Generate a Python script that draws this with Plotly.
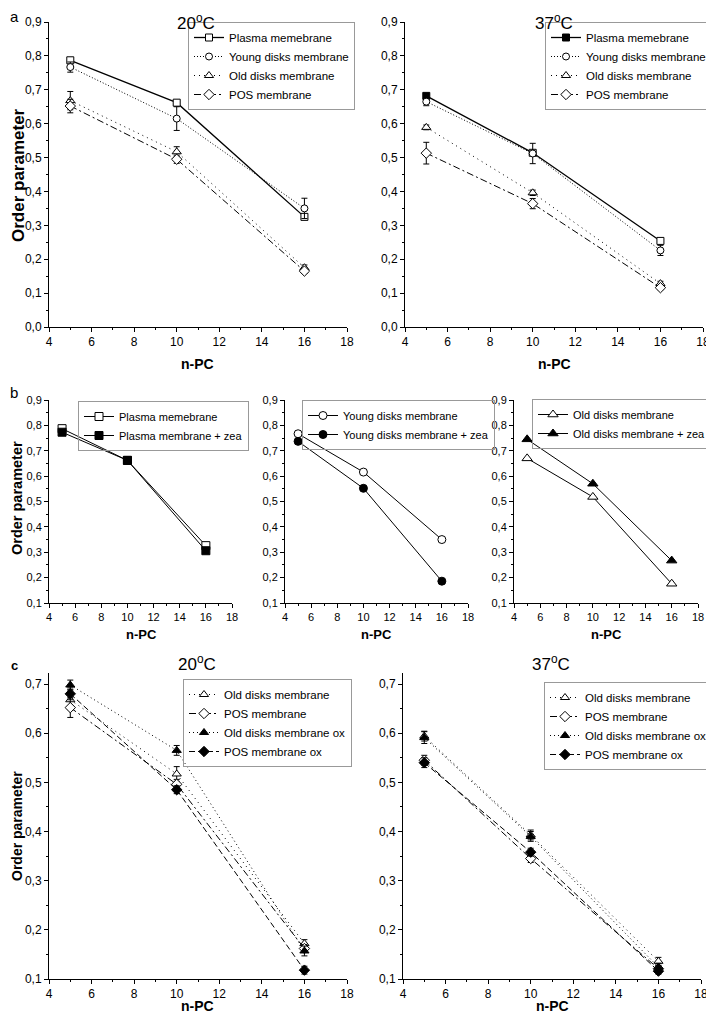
import plotly.graph_objects as go

# The page body has an 8px default margin, so the figure is drawn at (8, 8)
# inside the 714x1020 window; size it to fit and map window pixels into it.
WIN_OFF = 8
W, H = 706, 1012
FONT = "Arial, Liberation Sans, sans-serif"

npc = [5, 10, 16]

# ---- Panel a, 20 C
a20_plasma = [0.787, 0.662, 0.325]
a20_plasma_err = [0.004, 0.006, 0.008]
a20_young = [0.767, 0.615, 0.350]
a20_young_err = [0.015, 0.035, 0.030]
a20_old = [0.668, 0.517, 0.175]
a20_old_err = [0.027, 0.015, 0.008]
a20_pos = [0.652, 0.495, 0.165]
a20_pos_err = [0.020, 0.012, 0.007]

# ---- Panel a, 37 C
a37_plasma = [0.682, 0.514, 0.254]
a37_plasma_err = [0.004, 0.006, 0.006]
a37_young = [0.665, 0.512, 0.226]
a37_young_err = [0.012, 0.030, 0.015]
a37_old = [0.589, 0.396, 0.128]
a37_old_err = [0.007, 0.008, 0.007]
a37_pos = [0.513, 0.364, 0.116]
a37_pos_err = [0.032, 0.015, 0.006]

# ---- Panel b (zeaxanthin)
b_plasma = [0.787, 0.662, 0.326]
b_plasma_zea = [0.773, 0.662, 0.306]
b_young = [0.767, 0.616, 0.350]
b_young_zea = [0.737, 0.552, 0.186]
b_old = [0.670, 0.518, 0.176]
b_old_zea = [0.745, 0.570, 0.267]

# ---- Panel c, 20 C
c20_old = [0.668, 0.517, 0.172]
c20_old_err = [0.020, 0.015, 0.008]
c20_pos = [0.652, 0.496, 0.162]
c20_pos_err = [0.020, 0.010, 0.008]
c20_old_ox = [0.698, 0.565, 0.157]
c20_old_ox_err = [0.010, 0.010, 0.010]
c20_pos_ox = [0.680, 0.485, 0.118]
c20_pos_ox_err = [0.012, 0.008, 0.008]

# ---- Panel c, 37 C
c37_old = [0.594, 0.393, 0.136]
c37_old_err = [0.010, 0.010, 0.008]
c37_pos = [0.545, 0.345, 0.121]
c37_pos_err = [0.010, 0.008, 0.006]
c37_old_ox = [0.591, 0.390, 0.124]
c37_old_ox_err = [0.012, 0.010, 0.008]
c37_pos_ox = [0.540, 0.358, 0.116]
c37_pos_ox_err = [0.010, 0.008, 0.006]


def px(x):
    return (x - WIN_OFF) / W


def py(y):
    return 1 - (y - WIN_OFF) / H


fig = go.Figure()


def add(x, y, name, axis, legend, symbol, dash, fill="white", err=None,
        width=1.0, size=7):
    sfx = "" if axis == 1 else str(axis)
    tr = dict(
        x=x, y=y, name=name, mode="lines+markers",
        xaxis="x" + sfx, yaxis="y" + sfx, legend=legend,
        line=dict(color="black", width=width, dash=dash),
        marker=dict(symbol=symbol, size=size, color=fill,
                    line=dict(color="black", width=1)),
        cliponaxis=False,
    )
    if err is not None:
        tr["error_y"] = dict(type="data", array=err, visible=True,
                             color="black", thickness=1, width=3)
    fig.add_trace(go.Scatter(**tr))


DOT = "1px,2px"
SPARSE = "1px,4px"
DASHDOT = "7px,3px,2px,3px"
DASH = "6px,3px"

# a 20
add(npc, a20_plasma, "Plasma memebrane", 1, "legend", "square", "solid", err=a20_plasma_err, width=1.3)
add(npc, a20_young, "Young disks membrane", 1, "legend", "circle", DOT, err=a20_young_err)
add(npc, a20_old, "Old disks membrane", 1, "legend", "triangle-up", SPARSE, err=a20_old_err, size=8)
add(npc, a20_pos, "POS membrane", 1, "legend", "diamond", DASHDOT, err=a20_pos_err, size=8)
# a 37
add(npc, a37_plasma, "Plasma memebrane", 2, "legend2", "square", "solid",
    fill=["black", "white", "white"], err=a37_plasma_err, width=1.3)
add(npc, a37_young, "Young disks membrane", 2, "legend2", "circle", DOT, err=a37_young_err)
add(npc, a37_old, "Old disks membrane", 2, "legend2", "triangle-up", SPARSE, err=a37_old_err, size=8)
add(npc, a37_pos, "POS membrane", 2, "legend2", "diamond", DASHDOT, err=a37_pos_err, size=8)
# b
add(npc, b_plasma, "Plasma memebrane", 3, "legend3", "square", "solid", size=8)
add(npc, b_plasma_zea, "Plasma membrane + zea", 3, "legend3", "square", "solid", fill="black", size=8)
add(npc, b_young, "Young disks membrane", 4, "legend4", "circle", "solid", size=8)
add(npc, b_young_zea, "Young disks membrane + zea", 4, "legend4", "circle", "solid", fill="black", size=8)
add(npc, b_old, "Old disks membrane", 5, "legend5", "triangle-up", "solid", size=9)
add(npc, b_old_zea, "Old disks membrane + zea", 5, "legend5", "triangle-up", "solid", fill="black", size=9)
# c 20
add(npc, c20_old, "Old disks membrane", 6, "legend6", "triangle-up", SPARSE, err=c20_old_err, size=8)
add(npc, c20_pos, "POS membrane", 6, "legend6", "diamond", DASHDOT, err=c20_pos_err, size=8)
add(npc, c20_old_ox, "Old disks membrane ox", 6, "legend6", "triangle-up", "1px,3px", fill="black", err=c20_old_ox_err, size=8)
add(npc, c20_pos_ox, "POS membrane ox", 6, "legend6", "diamond", DASH, fill="black", err=c20_pos_ox_err, size=8)
# c 37
add(npc, c37_old, "Old disks membrane", 7, "legend7", "triangle-up", SPARSE, err=c37_old_err, size=8)
add(npc, c37_pos, "POS membrane", 7, "legend7", "diamond", DASHDOT, err=c37_pos_err, size=8)
add(npc, c37_old_ox, "Old disks membrane ox", 7, "legend7", "triangle-up", "1px,3px", fill="black", err=c37_old_ox_err, size=8)
add(npc, c37_pos_ox, "POS membrane ox", 7, "legend7", "diamond", DASH, fill="black", err=c37_pos_ox_err, size=8)

# ---- axes (window pixel boxes)
panels = {
    1: dict(x=(49, 347), y=(22, 327), yr=[0, 0.9], tf=12),
    2: dict(x=(405, 703), y=(22, 327), yr=[0, 0.9], tf=12),
    3: dict(x=(49, 232), y=(400, 603), yr=[0.1, 0.9], tf=11),
    4: dict(x=(285, 468), y=(400, 603), yr=[0.1, 0.9], tf=11),
    5: dict(x=(514, 698), y=(400, 603), yr=[0.1, 0.9], tf=11),
    6: dict(x=(49, 347), y=(673, 979), yr=[0.1, 0.7224], tf=12),
    7: dict(x=(403, 701), y=(673, 979), yr=[0.1, 0.7224], tf=12),
}

layout = {}
for i, p in panels.items():
    sfx = "" if i == 1 else str(i)
    common = dict(showline=True, linecolor="black", linewidth=1, showgrid=False,
                  zeroline=False, ticks="outside", ticklen=4, tickcolor="black",
                  tickwidth=1, tickfont=dict(family=FONT, size=p["tf"], color="black"),
                  fixedrange=True)
    layout["xaxis" + sfx] = dict(
        common, domain=[px(p["x"][0]), px(p["x"][1])], range=[4, 18],
        tick0=4, dtick=2, anchor="y" + sfx,
        minor=dict(ticks="outside", ticklen=2, dtick=1, tick0=4, tickcolor="black"),
    )
    layout["yaxis" + sfx] = dict(
        common, domain=[py(p["y"][1]), py(p["y"][0])], range=p["yr"],
        tick0=0, dtick=0.1, tickformat=".1f", anchor="x" + sfx,
        minor=dict(ticks="outside", ticklen=2, dtick=0.05, tick0=0, tickcolor="black"),
    )

fig.update_layout(**layout)

legend_pos = {
    "legend": (188, 22, 11.5),
    "legend2": (545, 22, 11.5),
    "legend3": (78, 401, 11),
    "legend4": (302, 400, 11),
    "legend5": (532, 399, 11),
    "legend6": (183, 679, 11.5),
    "legend7": (544, 682, 11.5),
}
for name, (lx, ly, fs) in legend_pos.items():
    fig.update_layout({name: dict(
        x=px(lx), y=py(ly), xanchor="left", yanchor="top",
        bgcolor="rgba(255,255,255,0)", bordercolor="#999999", borderwidth=1,
        font=dict(family=FONT, size=fs, color="black"),
        itemwidth=30, tracegroupgap=0,
    )})

ann = []


def text(x, y, s, size, bold=False, angle=0, yanchor="middle"):
    ann.append(dict(x=px(x), y=py(y), xref="paper", yref="paper",
                    text=("<b>%s</b>" % s) if bold else s, showarrow=False,
                    textangle=angle, xanchor="center", yanchor=yanchor,
                    font=dict(family=FONT, size=size, color="black")))


text(14, 17, "a", 15)
text(14, 392, "b", 15)
text(14, 665, "c", 13, bold=True)
text(196, 8.5, "20<sup>o</sup>C", 17, yanchor="top")
text(554, 8.5, "37<sup>o</sup>C", 17, yanchor="top")
text(197, 663, "20<sup>o</sup>C", 17)
text(551, 663, "37<sup>o</sup>C", 17)
text(198, 364, "n-PC", 14, bold=True)
text(554, 364, "n-PC", 14, bold=True)
text(141, 634, "n-PC", 13, bold=True)
text(377, 634, "n-PC", 13, bold=True)
text(606, 634, "n-PC", 13, bold=True)
text(198, 1006, "n-PC", 14, bold=True)
text(552, 1006, "n-PC", 14, bold=True)
text(18, 175, "Order parameter", 17, bold=True, angle=-90)
text(17, 498, "Order parameter", 14.5, bold=True, angle=-90)
text(17, 826, "Order parameter", 14, bold=True, angle=-90)

fig.update_layout(
    width=W, height=H, margin=dict(l=0, r=0, t=0, b=0, autoexpand=False),
    paper_bgcolor="white", plot_bgcolor="white",
    separators=",.", annotations=ann,
    font=dict(family=FONT, color="black"),
)

fig.write_html("out.html")
